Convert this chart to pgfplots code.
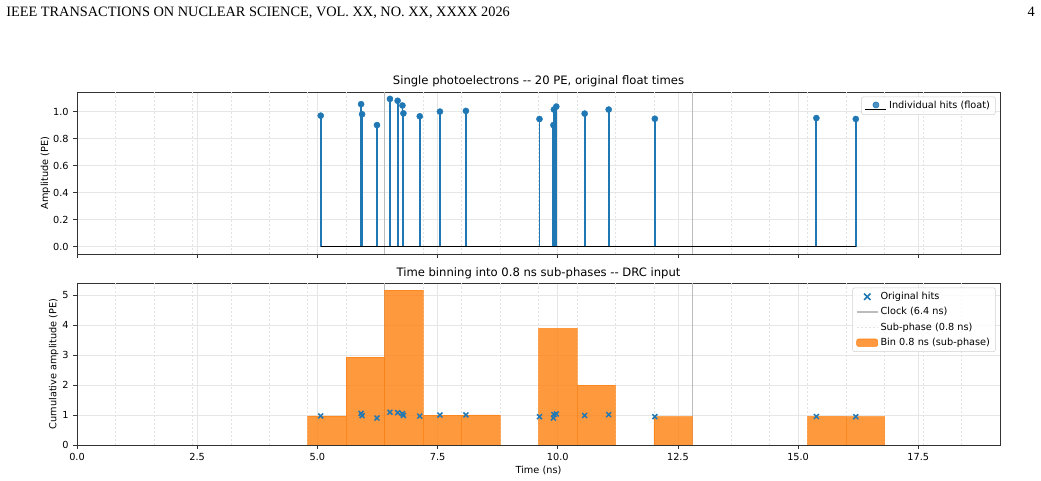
\documentclass[border=0pt]{standalone}
\usepackage{pgfplots}
\usepackage{pgfplotstable}
\pgfplotsset{compat=1.18}
\usepackage{fontspec}
\setmainfont{DejaVu Sans}
\newfontfamily\seriffont{Liberation Serif}
\definecolor{mblue}{RGB}{31,119,180}
\definecolor{morange}{RGB}{255,127,14}
\definecolor{clockgray}{RGB}{188,188,188}
\definecolor{gridgray}{RGB}{230,230,230}
\definecolor{subgray}{RGB}{226,226,226}
\newcommand\lblfont{\fontsize{7.3pt}{8.8pt}\selectfont}
\newcommand\ttlfont{\fontsize{8.7pt}{10.4pt}\selectfont}

\pgfplotstableread{
t a
5.07 0.970
5.91 1.055
5.93 0.980
6.24 0.900
6.51 1.094
6.67 1.080
6.77 1.045
6.79 0.987
7.13 0.965
7.55 1.000
8.09 1.005
9.62 0.945
9.91 0.900
9.92 1.015
9.97 1.037
10.56 0.985
11.06 1.015
12.02 0.947
15.38 0.952
16.20 0.945
}\hits

\pgfplotstableread{
c h
5.2 0.970
6.0 2.935
6.8 5.171
7.6 1.000
8.4 1.005
10.0 3.897
10.8 2.000
12.4 0.947
15.6 0.952
16.4 0.945
}\bins

\pgfplotsset{
  mpl/.style={
    scale only axis, width=692.25pt, height=121.5pt,
    xmin=0, xmax=19.2,
    xtick={0,2.5,5,7.5,10,12.5,15,17.5},
    tick align=outside, tick pos=left,
    major tick length=2.8pt,
    axis line style={black!80, line width=0.6pt},
    every tick/.style={black!80, line width=0.6pt},
    grid=major, major grid style={gridgray, line width=0.6pt},
    extra x ticks={0.8,1.6,2.4,3.2,4.0,4.8,5.6,7.2,8.0,8.8,9.6,10.4,11.2,12.0,13.6,14.4,15.2,16.0,16.8,17.6,18.4},
    extra x tick labels={},
    extra x tick style={grid=major, major tick length=0pt,
      major grid style={subgray, line width=0.4pt, dash pattern=on 1.6pt off 1.4pt}},
    ticklabel style={font=\lblfont},
    label style={font=\lblfont},
    /pgf/number format/assume math mode=true,
    every axis title/.style={at={(0.5,1)}, anchor=base, font=\ttlfont, inner sep=0pt, yshift=5.25pt},
    legend cell align=left,
    legend style={font=\lblfont, draw=gray!35, rounded corners=1.5pt,
      fill=white, fill opacity=0.8, text opacity=1, draw opacity=1,
      inner xsep=2.5pt, inner ysep=1.5pt, row sep=1.25pt,
      nodes={inner sep=1.6pt}},
  }
}

\begin{document}
\begin{tikzpicture}
\path[use as bounding box] (0,0) rectangle (780.75pt,360.75pt);
\node[anchor=base west, inner sep=0pt, font=\seriffont\fontsize{10.75pt}{13pt}\selectfont] at (4.5pt,348pt) {IEEE TRANSACTIONS ON NUCLEAR SCIENCE, VOL. XX, NO. XX, XXXX 2026};
\node[anchor=base east, inner sep=0pt, font=\seriffont\fontsize{10.75pt}{13pt}\selectfont] at (776.25pt,348pt) {4};

% top axis
\begin{axis}[mpl, at={(57.75pt,170.25pt)}, anchor=south west,
  ymin=-0.0545, ymax=1.145,
  ytick={0,0.2,0.4,0.6,0.8,1.0},
  xticklabels={},
  yticklabel style={/pgf/number format/.cd, fixed, fixed zerofill, precision=1},
  ylabel={Amplitude (PE)},
  ylabel style={at={(axis description cs:-0.0342,0.5)}, anchor=center},
  title={Single photoelectrons -{}- 20 PE, original float times},
  legend style={at={(1,1)}, anchor=north east, xshift=-3.2pt, yshift=-3.5pt},
]
\addlegendimage{legend image code/.code={
  \draw[black, line width=1pt] (0pt,-2.6pt) -- (15.75pt,-2.6pt);
  \fill[mblue] (7.9pt,0.6pt) circle (2.3pt);
}}
\addlegendentry{Individual hits (float)}
\addplot[clockgray, line width=1.2pt, forget plot] coordinates {(6.4,-0.0545) (6.4,1.145)};
\addplot[clockgray, line width=1.2pt, forget plot] coordinates {(12.8,-0.0545) (12.8,1.145)};
\addplot[mblue, ycomb, line width=1.4pt, mark=*, mark size=2.3pt, mark options={fill=mblue, draw=mblue, line width=0.3pt}, forget plot] table[x=t, y=a] {\hits};
\addplot[black, line width=1.2pt, forget plot] coordinates {(5.07,0) (16.20,0)};
\end{axis}

% bottom axis
\begin{axis}[mpl, at={(57.75pt,27pt)}, anchor=south west,
  ymin=0, ymax=5.41,
  ytick={0,1,2,3,4,5},
  xticklabel style={/pgf/number format/.cd, fixed, fixed zerofill, precision=1},
  xlabel={Time (ns)},
  xlabel style={at={(axis description cs:0.5,-0.1543)}, anchor=center},
  ylabel={Cumulative amplitude (PE)},
  ylabel style={at={(axis description cs:-0.0253,0.5)}, anchor=center},
  title={Time binning into 0.8 ns sub-phases -{}- DRC input},
  legend style={at={(1,1)}, anchor=north east, xshift=-3.2pt, yshift=-3.5pt},
]
\addlegendimage{legend image code/.code={
  \draw[mblue, line width=1.1pt] (7.9pt,0pt) +(-2.4pt,-2.4pt) -- +(2.4pt,2.4pt) +(-2.4pt,2.4pt) -- +(2.4pt,-2.4pt);
}}
\addlegendentry{Original hits}
\addlegendimage{legend image code/.code={
  \draw[clockgray, line width=1.1pt] (0pt,0pt) -- (15.75pt,0pt);
}}
\addlegendentry{Clock (6.4 ns)}
\addlegendimage{legend image code/.code={
  \draw[subgray, line width=0.4pt, dash pattern=on 1.6pt off 1.4pt] (0pt,0pt) -- (15.75pt,0pt);
}}
\addlegendentry{Sub-phase (0.8 ns)}
\addlegendimage{legend image code/.code={
  \fill[morange, fill opacity=0.8] (0pt,-2.8pt) rectangle (15.75pt,2.8pt);
}}
\addlegendentry{Bin 0.8 ns (sub-phase)}
\addplot[clockgray, line width=1.2pt, forget plot] coordinates {(6.4,0) (6.4,5.41)};
\addplot[clockgray, line width=1.2pt, forget plot] coordinates {(12.8,0) (12.8,5.41)};
\addplot[ybar, bar width=0.8, bar shift=0pt, fill=morange, fill opacity=0.8, draw=morange, draw opacity=0.6, line width=0.5pt, forget plot] table[x=c, y=h] {\bins};
\addplot[only marks, mark=x, mark size=2.6pt, mblue, mark options={line width=1.1pt}, forget plot] table[x=t, y=a] {\hits};
\end{axis}
\end{tikzpicture}
\end{document}
